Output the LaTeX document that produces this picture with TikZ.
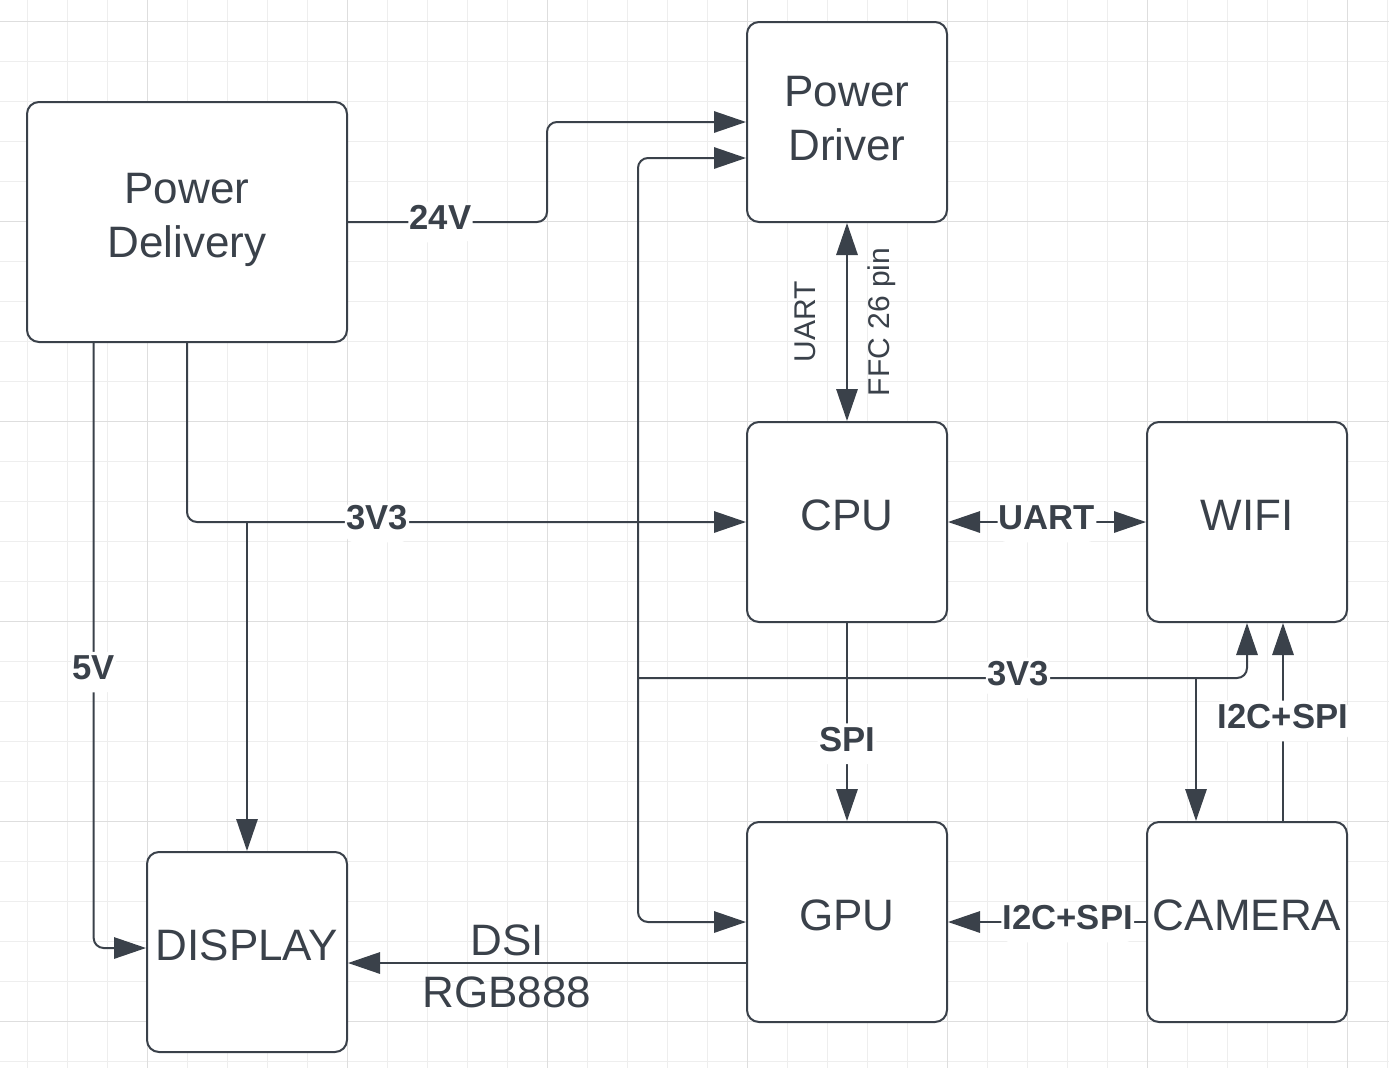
\documentclass[tikz,border=0pt]{standalone}
\usepackage{fontspec}
\setmainfont{Liberation Sans}
\usetikzlibrary{arrows.meta}
\definecolor{ink}{RGB}{58,65,74}
\definecolor{gridlo}{RGB}{238,238,238}
\definecolor{gridhi}{RGB}{222,222,222}
\tikzset{
  block/.style={draw=ink, line width=1.5pt, fill=white, rounded corners=9pt,
    minimum width=150pt, minimum height=150pt, align=center, text=ink,
    font=\fontsize{33}{40.5}\selectfont, text depth=10.5pt},
  conn/.style={draw=ink, line width=1.5pt, rounded corners=7.5pt},
  lbl/.style={fill=white, text=ink, font=\bfseries\fontsize{26}{30}\selectfont,
    inner xsep=1pt, inner ysep=3pt, text depth=6.5pt},
  vlbl/.style={text=ink, rotate=90, font=\fontsize{22.5}{27}\selectfont, inner sep=0pt},
  plain/.style={text=ink, font=\fontsize{33}{38}\selectfont, inner sep=0pt},
}
\begin{document}
\begin{tikzpicture}[x=0.75pt, y=-0.75pt, >={Triangle[length=24pt,width=16pt]}]
      \useasboundingbox (0,0) rectangle (1389,1068);
      % grid
      \foreach \gx in {27,67,...,1387} \draw[gridlo, line width=0.75pt] (\gx,0) -- (\gx,1068);
      \foreach \gy in {21,61,...,1061} \draw[gridlo, line width=0.75pt] (0,\gy) -- (1389,\gy);
      \foreach \gx in {147,347,...,1347} \draw[gridhi, line width=0.75pt] (\gx,0) -- (\gx,1068);
      \foreach \gy in {21,221,...,1021} \draw[gridhi, line width=0.75pt] (0,\gy) -- (1389,\gy);
      % blocks
      \node[block, minimum width=240pt, minimum height=180pt] (pdel) at (187,222) {Power\\Delivery};
      \node[block, text depth=5.25pt] (pdrv) at (847,122) {Power\\Driver};
      \node[block] (cpu) at (847,522) {CPU};
      \node[block] (wifi) at (1247,522) {WIFI};
      \node[block] (gpu) at (847,922) {GPU};
      \node[block] (cam) at (1247,922) {CAMERA};
      \node[block] (disp) at (247,952) {DISPLAY};
      % bends and junctions
      \coordinate (c24) at (547,222);
      \coordinate (o5v) at ([xshift=-70pt]pdel.south);
      \coordinate (j3v3) at (disp.north |- cpu.west);
      \coordinate (jbus) at (638,678);
      \coordinate (jcam) at (1196,678);
      % power
      \draw[conn,->] (pdel.east) -- node[lbl, pos=0.465]{24V} (c24) |- (pdrv.west);
      \draw[conn,->] (pdel.south) |- node[lbl, pos=0.67]{3V3} (cpu.west);
      \draw[conn,->] (j3v3) -- (disp.north);
      \draw[conn,->] (o5v) |- node[lbl, pos=0.272]{5V} ([yshift=3pt]disp.west);
      \draw[conn,<->] ([yshift=-27pt]pdrv.west) -| (jbus) |- (gpu.west);
      \draw[conn,->] (jbus) -| node[lbl, pos=0.312]{3V3} (wifi.south);
      \draw[conn,->] (jcam) -- (jcam |- cam.north);
      % data
      \draw[conn,<->] (pdrv.south) -- (cpu.north);
      \node[vlbl] (luart) at (805,322) {UART};
      \node[vlbl] (lffc) at (882,322) {FFC 26 pin};
      \draw[conn,<->] (cpu.east) -- node[lbl]{UART} (wifi.west);
      \draw[conn,->] (cpu.south) -- node[lbl, pos=0.61]{SPI} (gpu.north);
      \draw[conn,->] ([xshift=27pt]cam.north) -- node[lbl, pos=0.505]{I2C+SPI} ([xshift=27pt]wifi.south);
      \draw[conn,->] (cam.west) -- node[lbl, pos=0.395]{I2C+SPI} (gpu.east);
      \draw[conn,->] ([yshift=-30.75pt]gpu.west) -- ([yshift=-30.75pt]gpu.west -| disp.east);
      \node[plain] (ldsi) at (507,940) {DSI};
      \node[plain] (lrgb) at (507,992) {RGB888};
\end{tikzpicture}
\end{document}
